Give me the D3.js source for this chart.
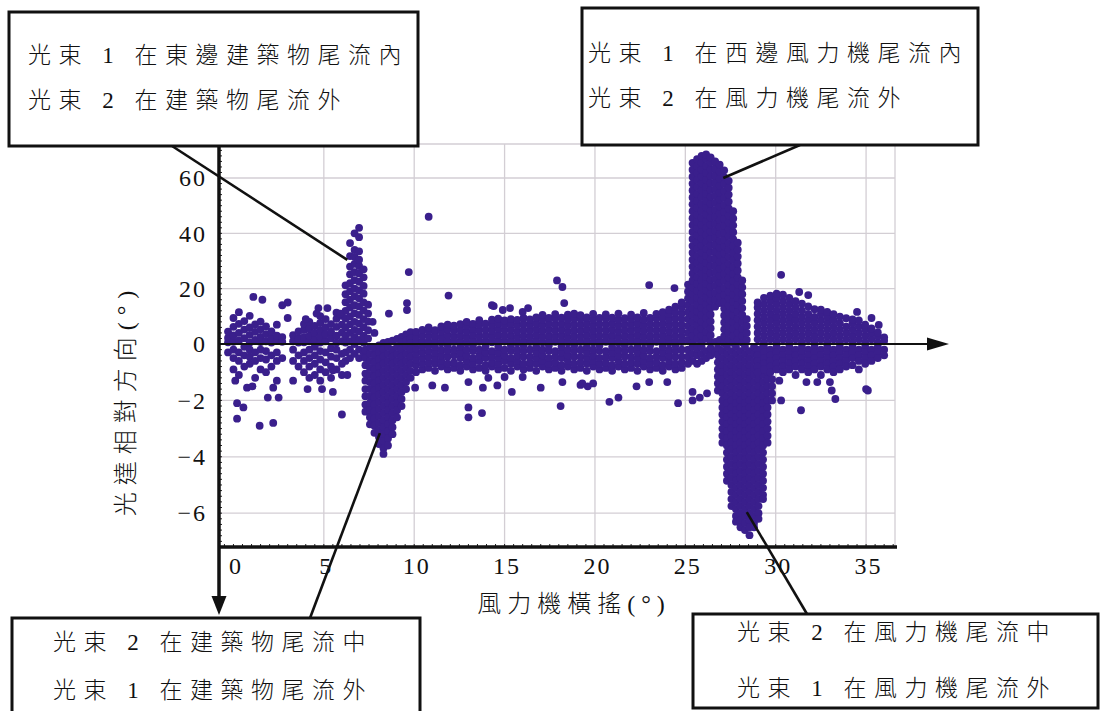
<!DOCTYPE html>
<html lang="zh-Hant">
<head>
<meta charset="utf-8">
<script src="https://d3js.org/d3.v7.min.js"></script>
<style>
html,body{margin:0;padding:0;background:#fff;}
svg{display:block;}
</style>
</head>
<body>
<svg id="chart" width="1107" height="711"></svg>
<script>
// ---------------- data ----------------
const xTicks = [0, 5, 10, 15, 20, 25, 30, 35];
const xTickLabels = ["0", "5", "10", "15", "20", "25", "30", "35"];
const yTicks = [60, 40, 20, 0, -2, -4, -6];
const yTickLabels = ["60", "40", "20", "0", "−2", "−4", "−6"];
const xTitle = "風力機橫搖(°)";
const yTitle = "光達相對方向(°)";
const noteTopLeft = ["光束 1 在東邊建築物尾流內", "光束 2 在建築物尾流外"];
const noteTopRight = ["光束 1 在西邊風力機尾流內", "光束 2 在風力機尾流外"];
const noteBottomLeft = ["光束 2 在建築物尾流中", "光束 1 在建築物尾流外"];
const noteBottomRight = ["光束 2 在風力機尾流中", "光束 1 在風力機尾流外"];
// points the callouts point at (data coordinates)
const noteTargets = [[6.3, 30.4], [27.1, 60], [8.1, -3.16], [28.4, -5.96]];

// scatter read column by column: [yaw, [relative directions]]
const colsStart = [
  [-0.3, [-0.3, 0.6, 2.2, 4.5]],
  [0.0, [-0.9, -0.5, -0.2, 0.8, 3.1, 6.2, 9.4]],
  [0.3, [-1.1, -0.6, -0.3, 1.2, 4.0, 7.3, 11.5]],
  [0.6, [-0.8, -0.4, -0.1, 2.1, 5.2, 8.3]],
  [0.9, [-0.7, -0.45, -0.2, 0.5, 3.3, 6.0, 10.2]],
  [1.2, [-1.2, -0.6, -0.3, 1.5, 4.4, 7.1]],
  [1.5, [-0.9, -0.5, -0.2, 0.7, 2.6, 5.3, 8.1]],
  [1.8, [-1.0, -0.55, -0.25, 1.0, 3.6, 6.4]],
  [2.1, [-0.8, -0.4, 0.5, 2.2, 4.6]],
  [2.4, [-1.3, -0.6, -0.3, 1.1, 3.0, 7.0]],
  [2.7, [-0.5, 0.8, 2.5]]
];
const colsBuildingSide = [
  [3.3, [-0.6, -0.2, 1.0, 3.2]],
  [3.6, [-0.8, -0.4, 0.5, 2.1, 4.6]],
  [3.9, [-1.0, -0.6, -0.3, 0.6, 2.5, 5.1, 7.2]],
  [4.2, [-1.2, -0.8, -0.5, -0.2, 1.1, 3.0, 5.6, 8.0]],
  [4.5, [-1.1, -0.7, -0.4, -0.1, 1.6, 4.0, 6.5]],
  [4.8, [-1.3, -0.9, -0.55, -0.25, 0.5, 2.6, 5.0, 7.6, 10.1]],
  [5.1, [-1.0, -0.65, -0.3, 1.0, 3.5, 6.1, 9.0]],
  [5.4, [-1.2, -0.8, -0.45, -0.15, 2.0, 4.5, 7.2]],
  [5.7, [-0.9, -0.5, -0.2, 0.5, 3.0, 6.2, 9.1, 11.3]],
  [6.0, [-1.1, -0.7, -0.35, 1.0, 4.1, 7.0, 10.2]]
];
const colsBuildingPeak = [
  [6.2, [-0.6, -0.3, 0.5, 3.1, 6.0, 9.2, 12.0, 15.1, 18.0, 21.2]],
  [6.45, [-0.5, -0.2, 1.0, 4.0, 7.1, 10.0, 13.2, 16.0, 19.1, 22.0, 25.2, 28.0, 31.8, 36.5]],
  [6.7, [-0.35, 0.0, 2.5, 5.1, 8.0, 11.1, 14.0, 17.2, 20.0, 23.1, 26.0, 29.0, 31.5, 34.0, 40.0]],
  [6.95, [-0.5, -0.2, 1.5, 4.5, 7.4, 10.5, 13.6, 16.5, 19.4, 22.5, 25.5, 28.2, 30.5, 33.5, 38.6, 42.0]],
  [7.2, [-0.3, 0.5, 3.0, 6.1, 9.0, 12.1, 15.0, 18.2, 21.0, 24.1, 27.0]],
  [7.45, [2.0, 5.0, 8.1, 11.0, 14.2]]
];
const colsBuildingDip = [
  [7.3, [-0.2, -0.5, -0.75, -1.05, -1.3, -1.6, -1.85, -2.15, -2.4]],
  [7.55, [-0.1, -0.35, -0.6, -0.85, -1.1, -1.35, -1.6, -1.85, -2.1, -2.35, -2.6, -2.85]],
  [7.8, [-0.15, -0.4, -0.65, -0.9, -1.15, -1.4, -1.65, -1.9, -2.15, -2.4, -2.65, -2.9, -3.15]],
  [8.05, [-0.05, -0.3, -0.55, -0.8, -1.05, -1.3, -1.55, -1.8, -2.05, -2.3, -2.55, -2.8, -3.05, -3.3, -3.55]],
  [8.3, [0.4, -0.2, -0.45, -0.7, -0.95, -1.2, -1.45, -1.7, -1.95, -2.2, -2.45, -2.7, -2.95, -3.2, -3.45, -3.7, -3.9]],
  [8.55, [0.8, -0.1, -0.35, -0.6, -0.85, -1.1, -1.35, -1.6, -1.85, -2.1, -2.35, -2.6, -2.85, -3.1, -3.35, -3.6]],
  [8.8, [1.2, -0.2, -0.45, -0.7, -0.95, -1.2, -1.45, -1.7, -1.95, -2.2, -2.45, -2.7, -2.95, -3.2]],
  [9.05, [1.8, -0.1, -0.35, -0.6, -0.85, -1.1, -1.35, -1.6, -1.85, -2.1, -2.35, -2.6]],
  [9.3, [2.6, 0.5, -0.2, -0.45, -0.7, -0.95, -1.2, -1.45, -1.7, -1.95, -2.2]],
  [9.55, [3.5, 1.2, -0.1, -0.35, -0.6, -0.85, -1.1, -1.35, -1.6]],
  [9.8, [4.3, 2.0, 0.3, -0.2, -0.45, -0.7, -0.95, -1.2]]
];
const colsMiddleBand = [
  [10.1, [-1.0, -0.75, -0.55, -0.35, -0.15, 0.6, 2.5, 4.4]],
  [10.45, [-0.9, -0.7, -0.5, -0.3, -0.1, 1.0, 3.0, 5.1]],
  [10.8, [-0.85, -0.65, -0.45, -0.25, -0.05, 0.8, 2.8, 4.7, 6.0]],
  [11.15, [-0.95, -0.7, -0.5, -0.3, -0.1, 1.1, 3.1, 5.0]],
  [11.5, [-0.8, -0.6, -0.4, -0.2, 0.5, 2.5, 4.6, 6.4]],
  [11.85, [-0.9, -0.7, -0.45, -0.25, -0.05, 1.2, 3.2, 5.3, 7.0]],
  [12.2, [-0.85, -0.65, -0.4, -0.2, 0.7, 2.7, 4.8, 6.6]],
  [12.55, [-0.95, -0.75, -0.5, -0.3, -0.1, 1.0, 3.0, 5.1, 7.2]],
  [12.9, [-0.8, -0.6, -0.4, -0.2, 0.4, 2.4, 4.5, 6.5, 8.0]],
  [13.25, [-0.9, -0.7, -0.5, -0.25, -0.05, 1.3, 3.3, 5.4, 7.3]],
  [13.6, [-0.85, -0.6, -0.4, -0.2, 0.8, 2.8, 4.9, 6.9, 8.6]],
  [13.95, [-0.95, -0.75, -0.5, -0.3, -0.1, 1.1, 3.1, 5.2, 7.4]],
  [14.3, [-0.8, -0.65, -0.45, -0.25, 0.6, 2.6, 4.7, 6.8, 8.8]],
  [14.65, [-0.9, -0.7, -0.5, -0.3, -0.1, 1.4, 3.4, 5.5, 7.5, 9.2]],
  [15.0, [-0.85, -0.6, -0.4, -0.2, 0.9, 2.9, 5.0, 7.0, 8.5]],
  [15.35, [-0.95, -0.7, -0.5, -0.25, -0.05, 1.2, 3.2, 5.3, 7.3, 9.0]],
  [15.7, [-0.8, -0.6, -0.4, -0.2, 0.5, 2.5, 4.6, 6.7, 8.7]],
  [16.05, [-0.9, -0.7, -0.45, -0.25, -0.05, 1.0, 3.0, 5.1, 7.2, 9.4]],
  [16.4, [-0.85, -0.65, -0.45, -0.2, 0.7, 2.7, 4.8, 6.9, 8.9]],
  [16.75, [-0.95, -0.7, -0.5, -0.3, -0.1, 1.3, 3.3, 5.4, 7.5, 9.6]],
  [17.1, [-0.8, -0.6, -0.4, -0.2, 0.6, 2.6, 4.7, 6.8, 8.9, 10.5]],
  [17.45, [-0.9, -0.7, -0.5, -0.25, -0.05, 1.1, 3.1, 5.2, 7.3, 9.4]],
  [17.8, [-0.85, -0.65, -0.45, -0.25, 0.8, 2.8, 4.9, 7.0, 9.1, 10.8]],
  [18.15, [-0.95, -0.75, -0.5, -0.3, -0.1, 1.2, 3.2, 5.3, 7.4, 9.5]],
  [18.5, [-0.8, -0.6, -0.4, -0.2, 0.5, 2.5, 4.6, 6.7, 8.8, 10.6]],
  [18.85, [-0.9, -0.7, -0.45, -0.25, -0.05, 1.0, 3.0, 5.1, 7.2, 9.3, 11.0]],
  [19.2, [-0.85, -0.65, -0.45, -0.2, 0.7, 2.7, 4.8, 6.9, 9.0, 10.4]],
  [19.55, [-0.95, -0.7, -0.5, -0.3, -0.1, 1.3, 3.3, 5.4, 7.5, 9.6]],
  [19.9, [-0.8, -0.6, -0.4, -0.2, 0.6, 2.6, 4.7, 6.8, 8.9, 10.9]],
  [20.25, [-0.9, -0.7, -0.5, -0.25, -0.05, 1.1, 3.1, 5.2, 7.3, 9.4]],
  [20.6, [-0.85, -0.65, -0.45, -0.25, 0.8, 2.8, 4.9, 7.0, 9.1, 10.7]],
  [20.95, [-0.95, -0.75, -0.5, -0.3, -0.1, 1.2, 3.2, 5.3, 7.4, 9.5]],
  [21.3, [-0.8, -0.6, -0.4, -0.2, 0.5, 2.5, 4.6, 6.7, 8.8, 11.0]],
  [21.65, [-0.9, -0.7, -0.45, -0.25, -0.05, 1.0, 3.0, 5.1, 7.2, 9.3]],
  [22.0, [-0.85, -0.65, -0.45, -0.2, 0.7, 2.7, 4.8, 6.9, 9.0, 10.6]],
  [22.35, [-0.95, -0.7, -0.5, -0.3, -0.1, 1.3, 3.3, 5.4, 7.5, 9.6]],
  [22.7, [-0.8, -0.6, -0.4, -0.2, 0.6, 2.6, 4.7, 6.8, 8.9, 11.2]],
  [23.05, [-0.9, -0.7, -0.5, -0.25, -0.05, 1.1, 3.1, 5.2, 7.3, 9.4]],
  [23.4, [-0.85, -0.65, -0.45, -0.25, 0.8, 2.8, 4.9, 7.0, 9.1, 10.9]],
  [23.75, [-0.95, -0.75, -0.5, -0.3, -0.1, 1.2, 3.2, 5.3, 7.4, 9.5, 11.5]],
  [24.1, [-0.8, -0.6, -0.4, -0.2, 0.5, 2.5, 4.6, 6.7, 8.8, 10.8, 12.4]],
  [24.45, [-0.9, -0.7, -0.45, -0.25, -0.05, 1.0, 3.0, 5.1, 7.2, 9.3, 11.4, 13.5]],
  [24.8, [-0.85, -0.65, -0.45, -0.2, 0.7, 2.7, 4.8, 6.9, 9.0, 11.1, 13.2, 15.0]]
];
const colsTurbinePeak = [
  [25.15, [-0.7, -0.45, -0.2, 1.5, 4.0, 6.5, 9.0, 11.5, 14.0, 16.5, 19.0, 21.5]],
  [25.4, [-0.6, -0.35, -0.1, 0.5, 3.0, 5.5, 8.0, 10.5, 13.0, 15.5, 18.0, 20.5, 23.0, 25.5, 28.0, 30.5, 33.0, 35.5, 38.0, 40.5, 43.0, 45.5, 48.0, 50.5, 53.0, 55.5, 58.0, 60.5, 63.0, 65.5]],
  [25.65, [-0.7, -0.4, -0.15, 1.8, 4.3, 6.8, 9.3, 11.8, 14.3, 16.8, 19.3, 21.8, 24.3, 26.8, 29.3, 31.8, 34.3, 36.8, 39.3, 41.8, 44.3, 46.8, 49.3, 51.8, 54.3, 56.8, 59.3, 61.8, 64.3, 66.8]],
  [25.9, [-0.6, -0.35, -0.1, 0.6, 3.1, 5.6, 8.1, 10.6, 13.1, 15.6, 18.1, 20.6, 23.1, 25.6, 28.1, 30.6, 33.1, 35.6, 38.1, 40.6, 43.1, 45.6, 48.1, 50.6, 53.1, 55.6, 58.1, 60.6, 63.1, 65.6, 68.0]],
  [26.15, [-0.5, -0.25, 1.9, 4.4, 6.9, 9.4, 11.9, 14.4, 16.9, 19.4, 21.9, 24.4, 26.9, 29.4, 31.9, 34.4, 36.9, 39.4, 41.9, 44.4, 46.9, 49.4, 51.9, 54.4, 56.9, 59.4, 61.9, 64.4, 66.9, 68.5]],
  [26.4, [-0.4, -0.15, 0.7, 3.2, 5.7, 8.2, 10.7, 13.2, 15.7, 18.2, 20.7, 23.2, 25.7, 28.2, 30.7, 33.2, 35.7, 38.2, 40.7, 43.2, 45.7, 48.2, 50.7, 53.2, 55.7, 58.2, 60.7, 63.2, 65.7, 67.5]],
  [26.65, [-0.3, 0.8, 13.5, 16.0, 18.5, 21.0, 23.5, 26.0, 28.5, 31.0, 33.5, 36.0, 38.5, 41.0, 43.5, 46.0, 48.5, 51.0, 53.5, 56.0, 58.5, 61.0, 63.5, 66.0]],
  [26.9, [-0.2, 1.5, 14.8, 17.3, 19.8, 22.3, 24.8, 27.3, 29.8, 32.3, 34.8, 37.3, 39.8, 42.3, 44.8, 47.3, 49.8, 52.3, 54.8, 57.3, 59.8, 62.3, 64.8]],
  [27.15, [0.3, 2.8, 5.3, 7.8, 10.3, 12.8, 15.3, 17.8, 20.3, 22.8, 25.3, 27.8, 30.3, 32.8, 35.3, 37.8, 40.3, 42.8, 45.3, 47.8, 50.3, 52.8, 55.3, 57.8, 60.3, 62.8]],
  [27.4, [1.5, 4.0, 6.5, 9.0, 11.5, 14.0, 16.5, 19.0, 21.5, 24.0, 26.5, 29.0, 31.5, 34.0, 36.5, 39.0, 41.5, 44.0, 46.5, 49.0, 51.5, 54.0, 56.5, 59.0]],
  [27.65, [0.4, 2.9, 5.4, 7.9, 10.4, 12.9, 15.4, 17.9, 20.4, 22.9, 25.4, 27.9, 30.4, 32.9, 35.4, 37.9, 40.4, 42.9, 45.4, 48.0]],
  [27.9, [1.6, 4.1, 6.6, 9.1, 11.6, 14.1, 16.6, 19.1, 21.6, 24.1, 26.6, 29.1, 31.6, 34.1, 36.6]],
  [28.15, [0.5, 3.0, 5.5, 8.0, 10.5, 13.0, 15.5, 18.0, 20.5, 23.0]],
  [28.4, [1.5, 4.0, 6.5, 9.0]]
];
const colsTurbineDip = [
  [26.8, [-0.15, -0.4, -0.65, -0.9, -1.15, -1.4, -1.65]],
  [27.05, [-0.25, -0.5, -0.75, -1, -1.25, -1.5, -1.75, -2, -2.25, -2.5, -2.75, -3, -3.25, -3.5]],
  [27.3, [-0.1, -0.35, -0.6, -0.85, -1.1, -1.35, -1.6, -1.85, -2.1, -2.35, -2.6, -2.85, -3.1, -3.35, -3.6, -3.85, -4.1, -4.35, -4.6, -4.85]],
  [27.55, [-0.25, -0.5, -0.75, -1, -1.25, -1.5, -1.75, -2, -2.25, -2.5, -2.75, -3, -3.25, -3.5, -3.75, -4, -4.25, -4.5, -4.75, -5, -5.25, -5.5, -5.75]],
  [27.8, [-0.1, -0.35, -0.6, -0.85, -1.1, -1.35, -1.6, -1.85, -2.1, -2.35, -2.6, -2.85, -3.1, -3.35, -3.6, -3.85, -4.1, -4.35, -4.6, -4.85, -5.1, -5.35, -5.6, -5.85, -6.1, -6.3]],
  [28.05, [-0.25, -0.5, -0.75, -1, -1.25, -1.5, -1.75, -2, -2.25, -2.5, -2.75, -3, -3.25, -3.5, -3.75, -4, -4.25, -4.5, -4.75, -5, -5.25, -5.5, -5.75, -6, -6.25, -6.5]],
  [28.3, [-0.1, -0.35, -0.6, -0.85, -1.1, -1.35, -1.6, -1.85, -2.1, -2.35, -2.6, -2.85, -3.1, -3.35, -3.6, -3.85, -4.1, -4.35, -4.6, -4.85, -5.1, -5.35, -5.6, -5.85, -6.1, -6.35, -6.6]],
  [28.55, [-0.25, -0.5, -0.75, -1, -1.25, -1.5, -1.75, -2, -2.25, -2.5, -2.75, -3, -3.25, -3.5, -3.75, -4, -4.25, -4.5, -4.75, -5, -5.25, -5.5, -5.75, -6, -6.25, -6.5, -6.78]],
  [28.8, [-0.1, -0.35, -0.6, -0.85, -1.1, -1.35, -1.6, -1.85, -2.1, -2.35, -2.6, -2.85, -3.1, -3.35, -3.6, -3.85, -4.1, -4.35, -4.6, -4.85, -5.1, -5.35, -5.6, -5.85, -6.1, -6.35, -6.5]],
  [29.05, [-0.25, -0.5, -0.75, -1, -1.25, -1.5, -1.75, -2, -2.25, -2.5, -2.75, -3, -3.25, -3.5, -3.75, -4, -4.25, -4.5, -4.75, -5, -5.25, -5.5, -5.75, -6, -6.2]],
  [29.3, [-0.1, -0.35, -0.6, -0.85, -1.1, -1.35, -1.6, -1.85, -2.1, -2.35, -2.6, -2.85, -3.1, -3.35, -3.6, -3.85, -4.1, -4.35, -4.6, -4.85, -5.1, -5.35, -5.5]],
  [29.55, [-0.25, -0.5, -0.75, -1, -1.25, -1.5, -1.75, -2, -2.25, -2.5, -2.75, -3, -3.25, -3.5]],
  [29.8, [-1.25, -1.5, -1.75, -2.0]]
];
const colsTurbineSide = [
  [29.0, [-0.2, -0.4, -0.6, -0.8, -1.0, 1.7, 4.0, 6.3, 8.6, 10.9, 13.2, 15.0]],
  [29.35, [-0.1, -0.3, -0.5, -0.7, -0.9, 0.6, 2.9, 5.2, 7.5, 9.8, 12.1, 14.4, 16.7]],
  [29.7, [-0.2, -0.4, -0.6, -0.8, -1.0, 1.7, 4.0, 6.3, 8.6, 10.9, 13.2, 15.5, 17.5]],
  [30.05, [-0.1, -0.3, -0.5, -0.7, -0.9, 0.6, 2.9, 5.2, 7.5, 9.8, 12.1, 14.4, 16.7, 18.2]],
  [30.4, [-0.2, -0.4, -0.6, -0.8, -1.0, 1.7, 4.0, 6.3, 8.6, 10.9, 13.2, 15.5, 17.8]],
  [30.75, [-0.1, -0.3, -0.5, -0.7, -0.9, 0.6, 2.9, 5.2, 7.5, 9.8, 12.1, 14.4, 16.7]],
  [31.1, [-0.2, -0.4, -0.6, -0.8, -1.1, 1.7, 4.0, 6.3, 8.6, 10.9, 13.2, 15.5]],
  [31.45, [-0.1, -0.3, -0.5, -0.7, -0.9, 0.6, 2.9, 5.2, 7.5, 9.8, 12.1, 14.6]],
  [31.8, [-0.2, -0.4, -0.6, -0.8, -1.0, 1.7, 4.0, 6.3, 8.6, 10.9, 13.6]],
  [32.15, [-0.1, -0.3, -0.5, -0.7, -0.9, 0.6, 2.9, 5.2, 7.5, 9.8, 12.6]],
  [32.5, [-0.2, -0.4, -0.6, -0.8, -1.1, 1.7, 4.0, 6.3, 8.6, 10.9, 12.4]],
  [32.85, [-0.1, -0.3, -0.5, -0.7, -0.9, 0.6, 2.9, 5.2, 7.5, 9.8, 11.6]],
  [33.2, [-0.2, -0.4, -0.6, -0.8, -1.0, 1.7, 4.0, 6.3, 8.6, 10.8]],
  [33.55, [-0.1, -0.3, -0.5, -0.7, -0.9, 0.6, 2.9, 5.2, 7.5, 9.9]],
  [33.9, [-0.2, -0.4, -0.6, -0.8, 1.7, 4.0, 6.3, 9.3]],
  [34.25, [-0.1, -0.3, -0.5, -0.75, 0.6, 2.9, 5.2, 7.5, 8.9]],
  [34.6, [-0.2, -0.4, -0.6, -0.9, 1.7, 4.0, 6.3, 8.5]],
  [34.95, [-0.1, -0.3, -0.5, -0.7, 0.6, 2.9, 5.2, 7.0]],
  [35.3, [-0.2, -0.4, -0.6, 1.7, 4.0, 5.6]],
  [35.65, [-0.1, -0.3, -0.5, 0.6, 2.9, 4.2]],
  [36.0, [-0.2, -0.4, 1.2, 2.4]]
];
// isolated points: [yaw, relative direction]
const strayPoints = [
  [1.1, 17], [1.6, 16], [2.7, 14], [3.0, 15], [3.0, 9.4], [4.0, 9.0], [4.7, 13], [5.2, 13], [4.6, 11],
  [0.1, -1.3], [0.75, -1.55], [1.05, -1.5], [1.9, -1.9], [2.2, -1.55], [2.5, -1.9], [0.2, -2.1],
  [0.55, -2.25], [0.2, -2.65], [1.45, -2.9], [2.2, -2.8], [6.0, -2.5],
  [3.3, -1.3], [4.1, -1.6], [4.9, -1.6], [5.5, -1.7], [5.5, -0.93], [6.3, -1.1],
  [9.7, 26], [10.8, 46], [11.9, 17.5], [14.4, 13.7], [9.6, 14.8], [9.6, 12.3], [8.6, 11], [7.7, 8], [7.8, 4], [5.9, 11],
  [10.05, -1.55], [11.0, -1.47], [11.7, -1.55], [13.0, -1.35], [13.8, -1.55], [14.6, -1.47], [15.4, -1.7],
  [17.0, -1.55], [13.0, -2.25], [13.0, -2.6], [13.75, -2.45], [14.1, -1.2], [15.0, -1.17], [16.0, -1.17],
  [14.3, 14], [14.9, 12.3], [15.3, 13], [16.0, 11.6], [16.3, 13],
  [18.1, -2.2], [18.2, -1.35], [19.2, -1.45], [19.6, -1.5], [20.8, -2.05], [21.3, -1.9], [22.3, -1.5],
  [23.0, -1.35], [24.0, -1.35], [24.6, -2.1], [25.4, -1.7], [25.4, -2.0], [25.8, -1.9], [26.2, -1.75],
  [19.3, -1.4], [19.9, -1.4], [17.9, 23], [18.2, 20.6], [23.0, 21.3], [24.4, 20.2], [18.3, 14.8],
  [30.3, 25], [31.3, 18.8], [31.8, 17.7], [34.5, 11.6], [35.3, 9.4], [35.7, 6.9],
  [30.3, -2.0], [31.4, -2.35], [33.1, -1.65], [33.3, -1.95], [35.0, -1.6], [35.1, -1.65],
  [30.2, -1.3], [31.7, -1.35], [32.3, -1.35], [33.0, -1.35]
];

// ---------------- chart ----------------
const svg = d3.select("#chart");
const xDomain = [-0.8, 36.6];
const yDomain = [-7.2, 0, 72.3];
const x = d3.scaleLinear().domain(xDomain).range([219, 895]);
const y = d3.scaleLinear().domain(yDomain).range([547, 344, 144]);

const serif = '"Liberation Serif", "Times New Roman", serif';
const cjk = '"Liberation Serif", "Noto Sans CJK TC", "Noto Sans CJK SC", serif';

// grid
const grid = svg.append("g").attr("stroke", "#d3ced4").attr("stroke-width", 1.3);
grid.selectAll("line.h").data([...yTicks, yDomain[2]]).join("line").attr("class", "h")
  .attr("x1", x(xDomain[0])).attr("x2", x(xDomain[1]))
  .attr("y1", d => y(d)).attr("y2", d => y(d));
grid.selectAll("line.v").data([...xTicks.filter(d => d > 0), xDomain[1]]).join("line").attr("class", "v")
  .attr("x1", d => x(d)).attr("x2", d => x(d))
  .attr("y1", y(yDomain[2])).attr("y2", y(yDomain[0]));

// points
const allCols = [...colsStart, ...colsBuildingSide, ...colsBuildingPeak, ...colsBuildingDip,
  ...colsMiddleBand, ...colsTurbinePeak, ...colsTurbineDip, ...colsTurbineSide];
const pts = [...allCols.flatMap(([cx, ys]) => ys.map(v => [cx, v])), ...strayPoints];
svg.append("g").selectAll("circle").data(pts).join("circle")
  .attr("cx", d => x(d[0])).attr("cy", d => y(d[1])).attr("r", 3.9)
  .attr("fill", "#3a1f8c");

// axes (labels through d3 axes)
const yAxis = d3.axisLeft(y).tickValues(yTicks).tickFormat((d, i) => yTickLabels[i]).tickSize(0).tickPadding(12);
svg.append("g").attr("transform", `translate(${x(xDomain[0])},0)`).call(yAxis)
  .call(g => g.select(".domain").remove())
  .selectAll("text").attr("font-family", serif).attr("font-size", 24).attr("letter-spacing", 2).attr("fill", "#111");
const xAxis = d3.axisBottom(x).tickValues(xTicks).tickFormat((d, i) => xTickLabels[i]).tickSize(0).tickPadding(10);
svg.append("g").attr("transform", `translate(0,${y(yDomain[0])})`).call(xAxis)
  .call(g => g.select(".domain").remove())
  .selectAll("text").attr("font-family", serif).attr("font-size", 24).attr("letter-spacing", 2).attr("dx", 2).attr("fill", "#111");

// minor ticks
const minor = svg.append("g").attr("stroke", "#222").attr("stroke-width", 1);
const yMinor = [...d3.range(0, 72, 2), ...d3.range(-7.2, 0, 0.2)];
minor.selectAll("line.ym").data(yMinor).join("line").attr("class", "ym")
  .attr("x1", x(xDomain[0])).attr("x2", x(xDomain[0]) + 3)
  .attr("y1", d => y(d)).attr("y2", d => y(d));
minor.selectAll("line.xm").data(d3.range(-0.5, 36.6, 0.5)).join("line").attr("class", "xm")
  .attr("x1", d => x(d)).attr("x2", d => x(d))
  .attr("y1", y(yDomain[0])).attr("y2", y(yDomain[0]) - 3);

// zero arrow
svg.append("line").attr("x1", x(xDomain[0])).attr("x2", 930).attr("y1", y(0)).attr("y2", y(0))
  .attr("stroke", "#111").attr("stroke-width", 1.8);
svg.append("path").attr("d", `M927,${y(0) - 6.5}L949,${y(0)}L927,${y(0) + 6.5}Z`).attr("fill", "#111");

// bottom axis line
svg.append("line").attr("x1", x(xDomain[0])).attr("x2", 897).attr("y1", y(yDomain[0])).attr("y2", y(yDomain[0]))
  .attr("stroke", "#111").attr("stroke-width", 3.5);
// left axis line, extending down as arrow
svg.append("line").attr("x1", x(xDomain[0])).attr("x2", x(xDomain[0])).attr("y1", 140).attr("y2", 600)
  .attr("stroke", "#111").attr("stroke-width", 3.5);
svg.append("path").attr("d", `M${x(xDomain[0]) - 7.5},596L${x(xDomain[0]) + 7.5},596L${x(xDomain[0])},615Z`).attr("fill", "#111");

// axis titles
svg.append("text").attr("x", 574).attr("y", 604).attr("text-anchor", "middle").attr("dominant-baseline", "central")
  .attr("font-family", cjk).attr("font-weight", 300).attr("font-size", 24).attr("letter-spacing", 6).attr("fill", "#111").text(xTitle);
svg.append("text").attr("transform", "translate(126,400) rotate(-90)").attr("text-anchor", "middle")
  .attr("dominant-baseline", "central")
  .attr("font-family", cjk).attr("font-weight", 300).attr("font-size", 24).attr("letter-spacing", 7).attr("fill", "#111").text(yTitle);

// callouts
const boxes = [
  { x: 9, y: 12, w: 409, h: 134, lines: noteTopLeft, tx: 28, ty: [55, 100], from: [172, 146], target: noteTargets[0] },
  { x: 582, y: 8, w: 396, h: 137, lines: noteTopRight, tx: 588, ty: [53, 98], from: [800, 145], target: noteTargets[1] },
  { x: 12, y: 618, w: 408, h: 110, lines: noteBottomLeft, tx: 53, ty: [642, 690], from: [310, 618], target: noteTargets[2] },
  { x: 693, y: 614, w: 405, h: 94, lines: noteBottomRight, tx: 737, ty: [632, 688], from: [807, 614], target: noteTargets[3] }
];
svg.append("g").selectAll("line").data(boxes).join("line")
  .attr("x1", d => d.from[0]).attr("y1", d => d.from[1])
  .attr("x2", d => x(d.target[0])).attr("y2", d => y(d.target[1]))
  .attr("stroke", "#111").attr("stroke-width", 2.6);
const bg = svg.append("g").selectAll("g").data(boxes).join("g");
bg.append("rect").attr("x", d => d.x).attr("y", d => d.y).attr("width", d => d.w).attr("height", d => d.h)
  .attr("fill", "#fff").attr("stroke", "#111").attr("stroke-width", 3);
bg.each(function (d) {
  d3.select(this).selectAll("text").data(d.lines).join("text")
    .attr("x", d.tx).attr("y", (t, i) => d.ty[i]).attr("dominant-baseline", "central")
    .attr("font-family", cjk).attr("font-weight", 300).attr("font-size", 23).attr("letter-spacing", 7.5).attr("fill", "#111")
    .text(t => t);
});
</script>
</body>
</html>
